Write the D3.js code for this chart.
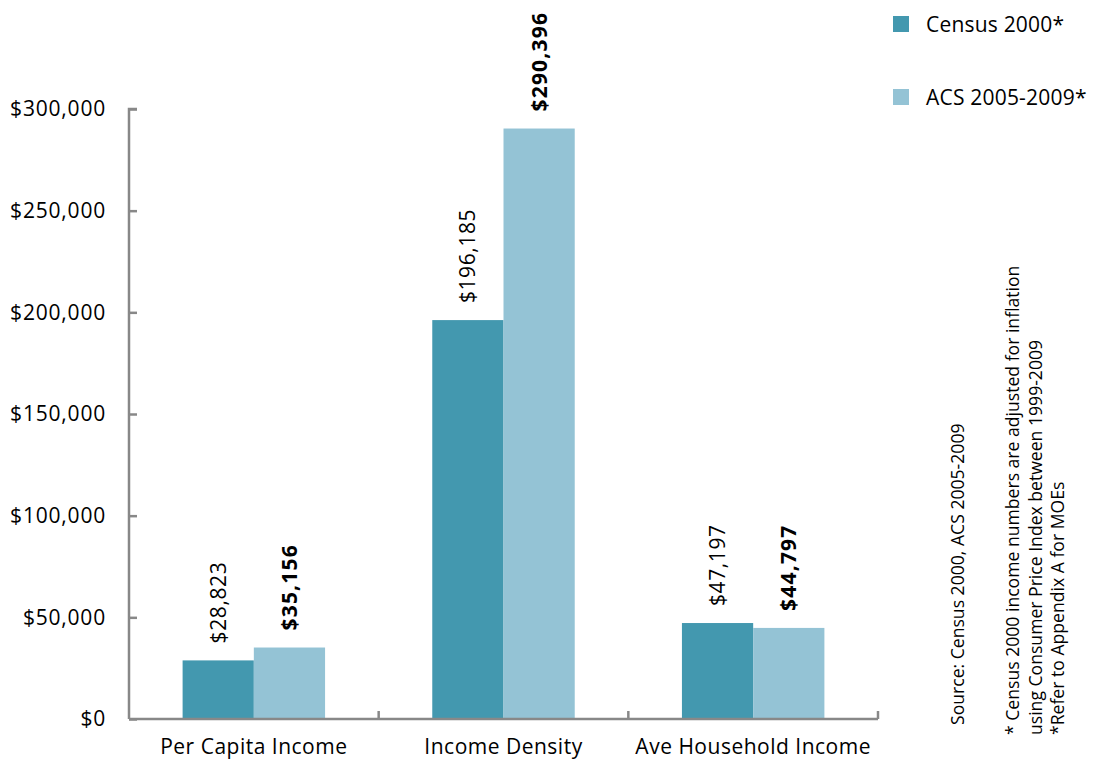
<!DOCTYPE html>
<html><head><meta charset="utf-8">
<script src="https://cdn.jsdelivr.net/npm/d3@7/dist/d3.min.js"></script>
<style>
body{margin:0;background:#fff;}
svg text{font-family:"Open Sans",sans-serif;fill:#000;}
</style></head>
<body><svg id="c" width="1099" height="765"></svg>
<script>
const categories = ["Per Capita Income", "Income Density", "Ave Household Income"];
const seriesNames = ["Census 2000*", "ACS 2005-2009*"];
const census2000 = [28823, 196185, 47197];
const acs20052009 = [35156, 290396, 44797];
const yTicks = [0, 50000, 100000, 150000, 200000, 250000, 300000];
const notes = [
  "Source: Census 2000, ACS 2005-2009",
  "* Census 2000 income numbers are adjusted for inflation",
  "using Consumer Price Index between 1999-2009",
  "*Refer to Appendix A for MOEs"
];
const colors = ["#4398af", "#94c3d5"];

const svg = d3.select("#c");
const mLeft = 129, mRight = 878, mTop = 109, mBottom = 719;
const x0 = d3.scaleBand().domain(categories).range([mLeft, mRight]).paddingInner(0).paddingOuter(0);
const x1 = d3.scaleBand().domain(seriesNames).range([0, x0.bandwidth()]).paddingInner(0).paddingOuter(0.7525);
const y = d3.scaleLinear().domain([0, 300000]).range([mBottom, mTop]);
const fmt = d3.format("$,");

const series = [census2000, acs20052009];
const data = categories.map((c, i) => ({c, vals: series.map((s, j) => ({name: seriesNames[j], v: s[i], j}))}));

// bars
const g = svg.append("g");
data.forEach(d => {
  d.vals.forEach(b => {
    g.append("rect")
      .attr("x", x0(d.c) + x1(b.name))
      .attr("y", y(b.v))
      .attr("width", x1.bandwidth())
      .attr("height", y(0) - y(b.v))
      .attr("fill", colors[b.j]);
    const cx = x0(d.c) + x1(b.name) + x1.bandwidth() / 2;
    const ty = y(b.v) - 17;
    g.append("text")
      .attr("transform", `translate(${cx},${ty}) rotate(-90)`)
      .attr("dy", "0.36em")
      .attr("text-anchor", "start")
      .style("font-size", "21px")
      .style("letter-spacing", b.j === 1 ? "1.2px" : "0.6px")
      .style("font-weight", b.j === 1 ? "bold" : "normal")
      .text(fmt(b.v));
  });
});

// y axis
const yAxis = d3.axisRight(y).tickValues(yTicks).tickSize(8).tickFormat(fmt);
const ya = svg.append("g").attr("transform", `translate(${mLeft},0)`).call(yAxis);
ya.select(".domain").attr("d", `M8,${mTop}H0V${mBottom}`).attr("stroke", "#888").attr("stroke-width", 2.5);
ya.selectAll(".tick line").attr("stroke", "#888").attr("stroke-width", 2.5);
ya.selectAll(".tick text")
  .attr("x", -23).attr("text-anchor", "end")
  .style("font-size", "21px").style("letter-spacing", "0.8px")
  .attr("fill", "#000");

// x axis
const xa = svg.append("g").attr("transform", `translate(0,${mBottom})`)
  .call(d3.axisBottom(x0).tickSize(0).tickPadding(20));
xa.select(".domain").attr("d", `M${mLeft},0H${mRight}`).attr("stroke", "#888").attr("stroke-width", 2.5);
xa.selectAll(".tick text").style("font-size", "21px").style("letter-spacing", "0.5px").attr("fill", "#000");
// group separator ticks
const seps = categories.map(c => x0(c) + x0.bandwidth());
xa.selectAll(".sep").data(seps).enter().append("line")
  .attr("x1", d => d).attr("x2", d => d).attr("y1", 0).attr("y2", -8)
  .attr("stroke", "#888").attr("stroke-width", 2.5);

// legend
const lg = svg.append("g");
seriesNames.forEach((n, i) => {
  const ly = 24 + i * 73;
  lg.append("rect").attr("x", 893).attr("y", ly - 8).attr("width", 16).attr("height", 16).attr("fill", colors[i]);
  lg.append("text").attr("x", 926).attr("y", ly).attr("dy", "0.36em")
    .style("font-size", "21px").style("letter-spacing", "0.2px").text(n);
});

// notes
const noteX = [958, 1013, 1036, 1058];
const noteY = [725, 735, 735, 735];
notes.forEach((t, i) => {
  svg.append("text")
    .attr("transform", `translate(${noteX[i]},${noteY[i]}) rotate(-90)`)
    .attr("dy", "0.36em")
    .attr("text-anchor", "start")
    .style("font-size", "17.6px")
    .text(t);
});
</script></body></html>
